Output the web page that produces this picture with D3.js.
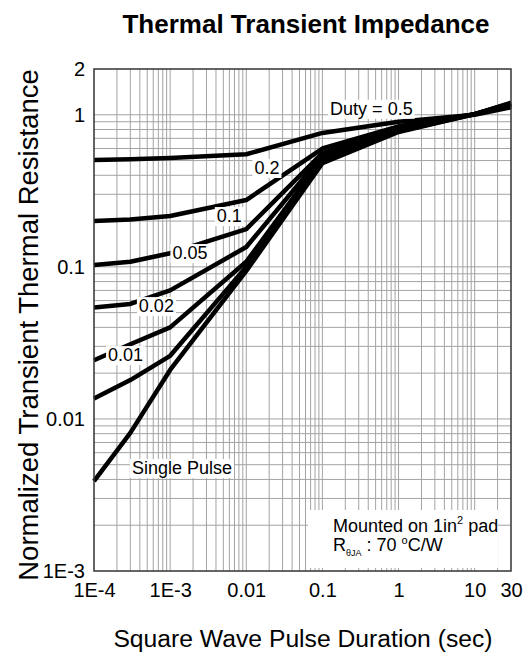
<html>
<head>
  <title>Thermal Transient Impedance</title>
  <script src='https://d3js.org/d3.v7.min.js'></script>
  <style>
    body { margin: 0; background: #fff; }
    text { font-family: 'Liberation Sans', Arial, sans-serif; fill: #000; }
  </style>
</head>
<body>
  <script>

// pulse durations (sec) where the curves were read
var durations = [1e-4, 3e-4, 1e-3, 0.01, 0.1, 1, 10, 30];

// normalized transient thermal resistance for each duty cycle
var duty05 = [0.505, 0.51, 0.52, 0.55, 0.76, 0.9, 1.0, 1.12];
var duty02 = [0.2, 0.205, 0.216, 0.275, 0.6, 0.84, 1.01, 1.15];
var duty01 = [0.103, 0.108, 0.123, 0.177, 0.56, 0.82, 1.01, 1.16];
var duty005 = [0.054, 0.057, 0.07, 0.135, 0.54, 0.8, 1.01, 1.17];
var duty002 = [0.0243, 0.031, 0.04, 0.108, 0.52, 0.79, 1.01, 1.18];
var duty001 = [0.0136, 0.018, 0.026, 0.1, 0.5, 0.78, 1.01, 1.19];
var single = [0.0039, 0.0081, 0.021, 0.094, 0.48, 0.77, 1.01, 1.2];

// curve labels and where they sit (data units)
var labelText = ['Duty = 0.5', '0.2', '0.1', '0.05', '0.02', '0.01', 'Single Pulse'];
var labelAtX = [0.44, 0.0187, 0.006, 0.00182, 0.00066, 0.00026, 0.00143];
var labelAtY = [1.0, 0.408, 0.197, 0.1125, 0.0504, 0.024, 0.00434];

var xTickVals = [1e-4, 1e-3, 0.01, 0.1, 1, 10, 30];
var xTickLabels = ['1E-4', '1E-3', '0.01', '0.1', '1', '10', '30'];
var yTickVals = [1e-3, 0.01, 0.1, 1, 2];
var yTickLabels = ['1E-3', '0.01', '0.1', '1', '2'];

var width = 530,
    height = 659;
var pL = 94, pR = 511, pT = 69, pB = 571;

var svg = d3.select('body')
  .append('svg')
  .attr('width', width)
  .attr('height', height);

var x = d3.scaleLog().domain([1e-4, 30]).range([pL, pR]);
var y = d3.scaleLog().domain([1e-3, 2]).range([pB, pT]);

// grid
var grid = svg.append('g').attr('stroke', '#a3a3a3').attr('stroke-width', 1);
grid.selectAll('line.v')
  .data(x.ticks().filter(function(d){ return d > 1e-4 && d < 30; }))
  .enter().append('line')
  .attr('class', 'v')
  .attr('x1', function(d){ return x(d); })
  .attr('x2', function(d){ return x(d); })
  .attr('y1', pT).attr('y2', pB);
grid.selectAll('line.h')
  .data(y.ticks().filter(function(d){ return d > 1e-3 && d <= 1.0001; }))
  .enter().append('line')
  .attr('class', 'h')
  .attr('y1', function(d){ return y(d); })
  .attr('y2', function(d){ return y(d); })
  .attr('x1', pL).attr('x2', pR);

// note box hides the grid
svg.append('rect')
  .attr('x', 308).attr('y', 510)
  .attr('width', 190).attr('height', 58)
  .attr('fill', '#fff');

// curves
var series = [duty05, duty02, duty01, duty005, duty002, duty001, single];
var line = d3.line()
  .x(function(d, i){ return x(durations[i]); })
  .y(function(d){ return y(d); });

svg.append('g').selectAll('path')
  .data(series)
  .enter().append('path')
  .attr('d', line)
  .attr('fill', 'none')
  .attr('stroke', '#000')
  .attr('stroke-width', 4.5)
  .attr('stroke-linejoin', 'round');

// frame
svg.append('rect')
  .attr('x', pL).attr('y', pT)
  .attr('width', pR - pL).attr('height', pB - pT)
  .attr('fill', 'none')
  .attr('stroke', '#333')
  .attr('stroke-width', 1.5);

// curve labels with white boxes
var labs = svg.append('g');
labelText.forEach(function(t, i){
  var g = labs.append('g');
  var tx = g.append('text')
    .attr('x', x(labelAtX[i]))
    .attr('y', y(labelAtY[i]))
    .attr('text-anchor', 'middle')
    .attr('font-size', 18)
    .text(t);
  var bb = tx.node().getBBox();
  g.insert('rect', 'text')
    .attr('x', bb.x - 2).attr('y', bb.y + 1)
    .attr('width', bb.width + 4).attr('height', bb.height - 1)
    .attr('fill', '#fff');
});

// axes
var xAxis = d3.axisBottom(x)
  .tickValues(xTickVals)
  .tickFormat(function(d, i){ return xTickLabels[i]; })
  .tickSize(0).tickPadding(12);
svg.append('g')
  .attr('transform', 'translate(0,' + pB + ')')
  .call(xAxis)
  .call(function(g){ g.select('.domain').remove(); })
  .selectAll('text')
  .attr('font-size', 20)
  .attr('font-family', "'Liberation Sans', Arial, sans-serif");

var yAxis = d3.axisLeft(y)
  .tickValues(yTickVals)
  .tickFormat(function(d, i){ return yTickLabels[i]; })
  .tickSize(0).tickPadding(9);
svg.append('g')
  .attr('transform', 'translate(' + pL + ',0)')
  .call(yAxis)
  .call(function(g){ g.select('.domain').remove(); })
  .selectAll('text')
  .attr('font-size', 20)
  .attr('font-family', "'Liberation Sans', Arial, sans-serif");

// titles
svg.append('text')
  .attr('x', 306).attr('y', 33)
  .attr('text-anchor', 'middle')
  .attr('font-size', 26)
  .attr('font-weight', 'bold')
  .text('Thermal Transient Impedance');

svg.append('text')
  .attr('transform', 'translate(38,325) rotate(-90)')
  .attr('text-anchor', 'middle')
  .attr('font-size', 27.5)
  .text('Normalized Transient Thermal Resistance');

svg.append('text')
  .attr('x', 303).attr('y', 647)
  .attr('text-anchor', 'middle')
  .attr('font-size', 24.7)
  .text('Square Wave Pulse Duration (sec)');

// note
var n1 = svg.append('text').attr('x', 333).attr('y', 532).attr('font-size', 18);
n1.append('tspan').text('Mounted on 1in');
n1.append('tspan').attr('font-size', 11).attr('dy', -8).text('2');
n1.append('tspan').attr('dy', 8).text(' pad');

var n2 = svg.append('text').attr('x', 333).attr('y', 551).attr('font-size', 18);
n2.append('tspan').text('R');
n2.append('tspan').attr('font-size', 9).attr('dy', 5).text('\u03B8JA');
n2.append('tspan').attr('dy', -5).text(' : 70 ');
n2.append('tspan').attr('font-size', 11).attr('dy', -7).text('o');
n2.append('tspan').attr('dy', 7).text('C/W');

  </script>
</body>
</html>
